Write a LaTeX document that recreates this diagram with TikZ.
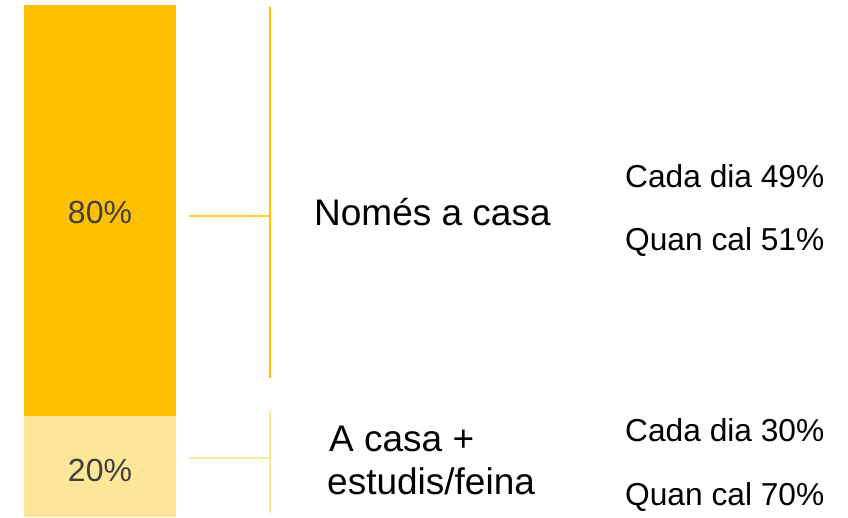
\documentclass[tikz,border=0pt]{standalone}
\usepackage{fontspec}
\setmainfont{Liberation Sans}
\definecolor{gold}{HTML}{FFC000}
\definecolor{goldlight}{HTML}{FFE699}
\definecolor{goldmid}{HTML}{FFCC33}
\definecolor{pctgrey}{HTML}{404040}
\tikzset{
  pct/.style={font=\fontsize{32}{38}\selectfont, text=pctgrey, anchor=base, inner sep=0pt},
  big/.style={font=\fontsize{37}{44}\selectfont, anchor=base west, inner sep=0pt},
  small/.style={font=\fontsize{31.7}{38}\selectfont, anchor=base west, inner sep=0pt},
  bracket/.style={line width=1.5pt},
}
\begin{document}
\begin{tikzpicture}[x=1pt,y=-1pt]
\useasboundingbox (0,0) rectangle (848,517);
% bars
\fill[gold] (24,5) rectangle (176,416);
\fill[goldlight] (24,416) rectangle (176,517);
\node[pct] (p80) at (100,223) {80\%};
\node[pct] (p20) at (100,481) {20\%};
% brackets
\coordinate (t1) at (270,7);
\coordinate (b1) at (270,378);
\coordinate (m1) at (270,216);
\coordinate (h1) at (189,216);
\draw[bracket, gold] (t1) -- (b1);
\draw[bracket, goldmid] (h1) -- (m1);
\coordinate (t2) at (270,411);
\coordinate (b2) at (270,513);
\coordinate (m2) at (270,458);
\coordinate (h2) at (189,458);
\draw[bracket, goldlight] (t2) -- (b2);
\draw[bracket, goldlight] (h2) -- (m2);
% labels
\node[big] (nc) at (314,225) {Només a casa};
\node[big] (ac1) at (329,451) {A casa +};
\node[big] (ac2) at (327,494) {estudis/feina};
\node[small] (c49) at (625,187) {Cada dia 49\%};
\node[small] (q51) at (625,250) {Quan cal 51\%};
\node[small] (c30) at (625,441) {Cada dia 30\%};
\node[small] (q70) at (625,505) {Quan cal 70\%};
\end{tikzpicture}
\end{document}
